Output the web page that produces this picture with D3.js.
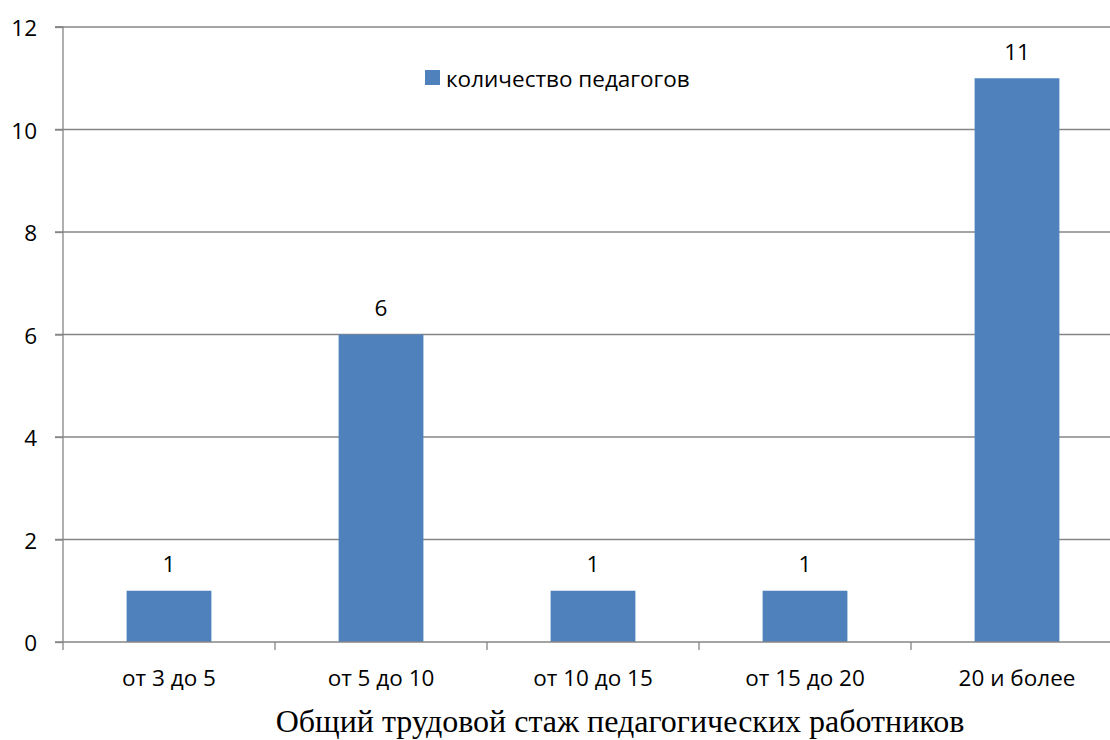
<!DOCTYPE html>
<html><head><meta charset="utf-8">
<script src="https://cdn.jsdelivr.net/npm/d3@7"></script>
<style>body{margin:0;background:#fff}svg{display:block}</style>
</head><body>
<svg id="c" width="1110" height="740"></svg>
<script>
const categories = ["от 3 до 5","от 5 до 10","от 10 до 15","от 15 до 20","20 и более"];
const values = [1,6,1,1,11];
const yTicks = [0,2,4,6,8,10,12];
const seriesName = "количество педагогов";
const axisTitle = "Общий трудовой стаж педагогических работников";

(function(){
const svg = d3.select("#c");
const pL = 63, pR = 1123, pT = 27, pB = 642;
const font = "'Open Sans', 'Noto Sans', sans-serif";
const fs = 22.5;
const x = d3.scaleBand().domain(categories).range([pL, pR]).paddingInner(0).paddingOuter(0);
const y = d3.scaleLinear().domain([0,12]).range([pB, pT]);
const barW = x.bandwidth()/2.5;

// gridlines
svg.append("g").selectAll("line").data(yTicks.filter(d=>d>0)).join("line")
  .attr("x1", pL-8).attr("x2", 1110).attr("y1", d=>y(d)).attr("y2", d=>y(d))
  .attr("stroke", "#868686").attr("stroke-width", 1.3);

// y axis
const ya = svg.append("g").attr("transform", `translate(${pL},0)`)
  .call(d3.axisLeft(y).tickValues(yTicks).tickSize(8).tickFormat(d3.format("d")));
ya.select(".domain").attr("stroke","#868686").attr("stroke-width",1.3).attr("d", `M-8,${pT}H0V${pB}H-8`);
ya.selectAll(".tick line").attr("stroke","#868686").attr("stroke-width",1.3);
ya.selectAll(".tick text").attr("font-family", font).attr("font-size", fs).attr("fill","#000")
  .attr("x",-26).attr("dy", null).attr("dominant-baseline","central");

// bars
svg.append("g").selectAll("rect").data(values).join("rect")
  .attr("x", (d,i)=>x(categories[i]) + x.bandwidth()/2 - barW/2)
  .attr("width", barW)
  .attr("y", d=>y(d)).attr("height", d=>pB - y(d))
  .attr("fill", "#4F81BD");

// x axis
const xa = svg.append("g").attr("transform", `translate(0,${pB})`)
  .call(d3.axisBottom(x).tickSize(0));
xa.select(".domain").attr("stroke","#868686").attr("stroke-width",1.3).attr("d", `M${pL},0H1110`);
xa.selectAll(".tick text").attr("font-family", font).attr("font-size", fs).attr("fill","#000")
  .attr("y", 35).attr("dy", null).attr("dominant-baseline","central");
svg.append("g").selectAll("line").data(categories.map((c,i)=>i)).join("line")
  .attr("x1", i=>pL + i*x.step()).attr("x2", i=>pL + i*x.step())
  .attr("y1", pB).attr("y2", pB+8)
  .attr("stroke","#868686").attr("stroke-width",1.3);

// data labels
svg.append("g").selectAll("text").data(values).join("text")
  .attr("x", (d,i)=>x(categories[i]) + x.bandwidth()/2)
  .attr("y", d=>y(d) - 27)
  .attr("text-anchor","middle").attr("dominant-baseline","central")
  .attr("font-family", font).attr("font-size", fs).attr("fill","#000")
  .text(d=>d);

// legend
svg.append("rect").attr("x",425).attr("y",70).attr("width",15).attr("height",15).attr("fill","#4F81BD");
svg.append("text").attr("x",446).attr("y",78).attr("dominant-baseline","central")
  .attr("font-family",font).attr("font-size",fs).attr("fill","#000").text(seriesName);

// axis title
svg.append("text").attr("x",620).attr("y",732).attr("text-anchor","middle")
  .attr("font-family","'Liberation Serif','DejaVu Serif',serif").attr("font-size",32).attr("fill","#000").text(axisTitle);
})();
</script>
</body></html>
